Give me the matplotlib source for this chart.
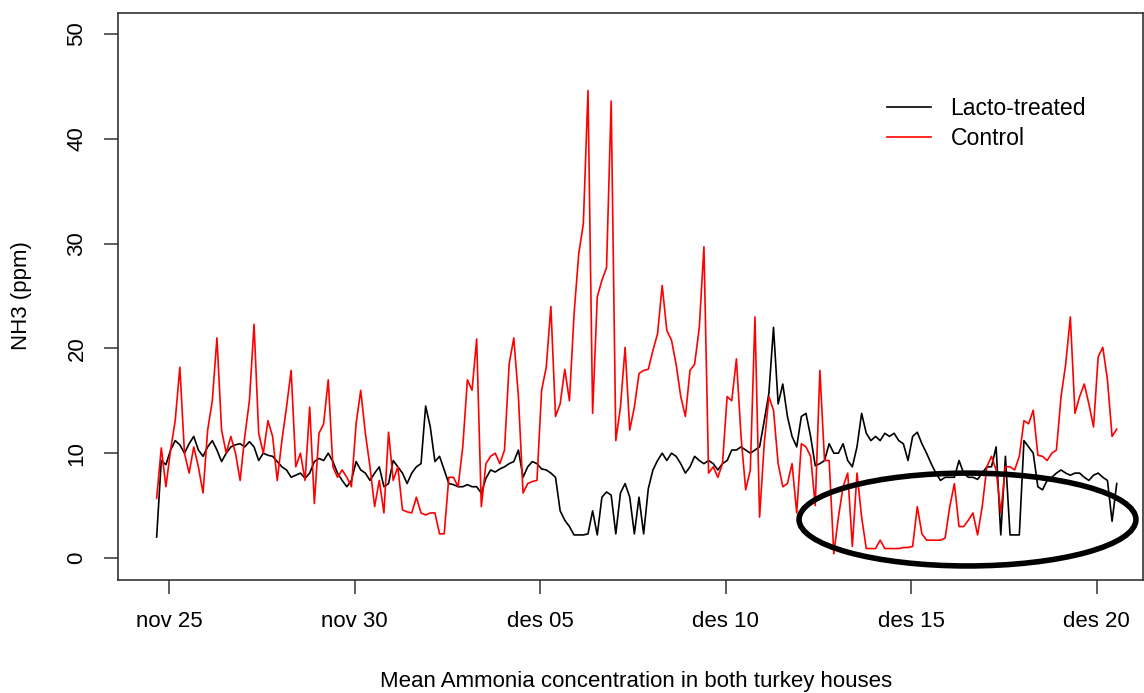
import matplotlib
matplotlib.use("Agg")
import matplotlib.pyplot as plt
import matplotlib.dates as mdates
from matplotlib.patches import Ellipse
from datetime import datetime, timedelta

plt.rcParams['font.family'] = ['Liberation Sans', 'DejaVu Sans']

# 3-hourly readings starting 24 Nov 16:00
start = datetime(2016, 11, 24, 16, 0)

lacto = [2.0, 9.3, 8.9, 10.3, 11.2, 10.8, 10, 10.9, 11.6, 10.3, 9.7, 10.6, 11.2, 10.3, 9.2, 10,
         10.6, 10.8, 10.9, 10.6, 11.1, 10.6, 9.3, 10, 9.8, 9.7, 9.2, 8.7, 8.4, 7.7, 7.9, 8.1,
         7.6, 8.1, 9.2, 9.5, 9.3, 10, 9.2, 8.1, 7.4, 6.8, 7.4, 9.2, 8.4, 8.1, 7.4, 8.1,
         8.7, 6.8, 7.1, 9.3, 8.7, 8.1, 7.1, 8.1, 8.7, 9.0, 14.5, 12.5, 9.2, 9.7, 8.4, 7.1,
         7, 6.8, 6.8, 7, 6.8, 6.8, 6.2, 7.6, 8.4, 8.2, 8.5, 8.7, 9, 9.2, 10.3, 7.7,
         8.7, 9.2, 9, 8.5, 8.4, 8.1, 7.7, 4.5, 3.6, 3.0, 2.2, 2.2, 2.2, 2.3, 4.5, 2.2,
         5.8, 6.3, 6, 2.3, 6.2, 7.1, 5.8, 2.3, 5.8, 2.3, 6.6, 8.4, 9.3, 10, 9.3, 10,
         9.7, 9, 8.1, 8.7, 9.7, 9.3, 9, 9.3, 9, 8.4, 9, 9.3, 10.3, 10.3, 10.6, 10.3,
         10, 10.3, 10.6, 13.1, 15.7, 22, 14.7, 16.6, 13.5, 11.6, 10.6, 13.5, 13.8, 11.6, 8.8, 9,
         9.3, 10.9, 10, 10, 10.9, 9.3, 8.7, 10.6, 13.8, 11.9, 11.2, 11.6, 11.2, 11.9, 11.6, 11.9,
         11.2, 10.9, 9.3, 11.6, 12, 10.9, 10, 9, 8.1, 7.4, 7.7, 7.7, 7.7, 9.3, 8.1, 7.7,
         7.7, 7.5, 8.1, 8.7, 8.7, 10.6, 2.2, 9.7, 2.2, 2.2, 2.2, 11.2, 10.6, 10, 6.8, 6.5,
         7.4, 7.7, 8.1, 8.4, 8.1, 7.9, 8.1, 8.1, 7.7, 7.4, 7.9, 8.1, 7.7, 7.4, 3.5, 7.1]

control = [5.7, 10.5, 6.8, 10.3, 13.1, 18.2, 10, 8.1, 10.6, 8.7, 6.2, 12.2, 15, 21, 12.2, 10,
           11.6, 10, 7.4, 11.6, 15, 22.3, 11.9, 10, 13.1, 11.6, 7.4, 11.2, 14.4, 17.9, 8.7, 10,
           7.4, 14.4, 5.2, 11.9, 12.8, 17, 8.7, 7.7, 8.4, 7.7, 6.8, 12.8, 16, 11.9, 8.7, 4.9,
           7.4, 4.3, 12, 7.4, 8.7, 4.6, 4.4, 4.3, 5.8, 4.3, 4.1, 4.3, 4.3, 2.3, 2.3, 7.7,
           7.7, 6.8, 10.6, 17, 16, 20.9, 4.9, 9, 9.7, 10, 9, 10.3, 18.5, 21, 15.4, 6.2,
           7.1, 7.3, 7.4, 16, 18.2, 24, 13.5, 14.7, 18, 15, 23.3, 29, 31.9, 44.6, 13.8, 24.9,
           26.5, 27.7, 43.6, 11.2, 14.4, 20.1, 12.2, 14.4, 17.6, 17.9, 18, 19.8, 21.4, 26, 21.7, 20.8,
           18.5, 15.4, 13.5, 17.9, 18.5, 22, 29.7, 8.1, 8.7, 7.7, 9, 15.4, 15, 19, 11.6, 6.5,
           8.4, 23, 3.9, 10.9, 15.4, 14.1, 9, 6.8, 7.1, 9, 4.3, 10.9, 10.6, 9.7, 5, 17.9,
           9.3, 9.3, 0.4, 3.9, 6.8, 8.1, 1.1, 8.1, 3.9, 0.9, 0.9, 0.9, 1.7, 0.9, 0.9, 0.9,
           0.9, 1.0, 1.0, 1.1, 4.9, 2.3, 1.7, 1.7, 1.7, 1.7, 1.9, 4.9, 7.1, 3.0, 3.0, 3.6,
           4.3, 2.2, 4.9, 8.7, 9.7, 8.4, 4.3, 8.7, 8.7, 8.4, 9.7, 13.1, 12.8, 14.1, 9.8, 9.7,
           9.3, 10, 10.3, 15.4, 18.5, 23, 13.8, 15.4, 16.6, 14.7, 12.5, 19.2, 20.1, 17, 11.6, 12.3]

tick_dates = [datetime(2016, 11, 25), datetime(2016, 11, 30), datetime(2016, 12, 5),
              datetime(2016, 12, 10), datetime(2016, 12, 15), datetime(2016, 12, 20)]
tick_labels = ['nov 25', 'nov 30', 'des 05', 'des 10', 'des 15', 'des 20']
y_ticks = [0, 10, 20, 30, 40, 50]

t_lacto = [start + timedelta(hours=3 * i) for i in range(len(lacto))]
t_control = [start + timedelta(hours=3 * i) for i in range(len(control))]

fig = plt.figure(figsize=(11.44, 6.93), dpi=100)
ax = fig.add_axes([118 / 1144, 1 - 580 / 693, 1025 / 1144, 567 / 693])

ax.plot(t_lacto, lacto, color='black', lw=1.2, label='Lacto-treated')
ax.plot(t_control, control, color='red', lw=1.2, label='Control')

nov25 = datetime(2016, 11, 25)
ax.set_xlim(nov25 - timedelta(days=1.375), nov25 + timedelta(days=26.25))
ax.set_ylim(-2.1, 52)

ax.set_xticks(tick_dates)
ax.set_xticklabels(tick_labels)
ax.set_yticks(y_ticks)
ax.set_yticklabels([str(v) for v in y_ticks], rotation=90, va='center')
ax.tick_params(axis='both', direction='out', length=10, width=1.1, color='#333333',
               labelsize=16, pad=12)
for s in ax.spines.values():
    s.set_linewidth(1.2)
    s.set_color('#333333')

# the circled region
c = mdates.date2num(nov25 + timedelta(days=21.52))
ax.add_patch(Ellipse((c, 3.67), 9.08, 8.86, fill=False, lw=4, ec='black', zorder=5))

ax.legend(frameon=False, loc='upper left', bbox_to_anchor=(887 / 1144, 1 - 97 / 693),
          bbox_transform=fig.transFigure, borderpad=0, borderaxespad=0,
          handlelength=1.9, handletextpad=0.85, labelspacing=0.3, fontsize=16.6)

fig.text(22 / 1144, 1 - 296 / 693, 'NH3 (ppm)', rotation=90, ha='center', va='center', fontsize=16)
fig.text(636 / 1144, 1 - 681 / 693, 'Mean Ammonia concentration in both turkey houses',
         ha='center', va='center', fontsize=16)

fig.savefig('out.png', dpi=100)
